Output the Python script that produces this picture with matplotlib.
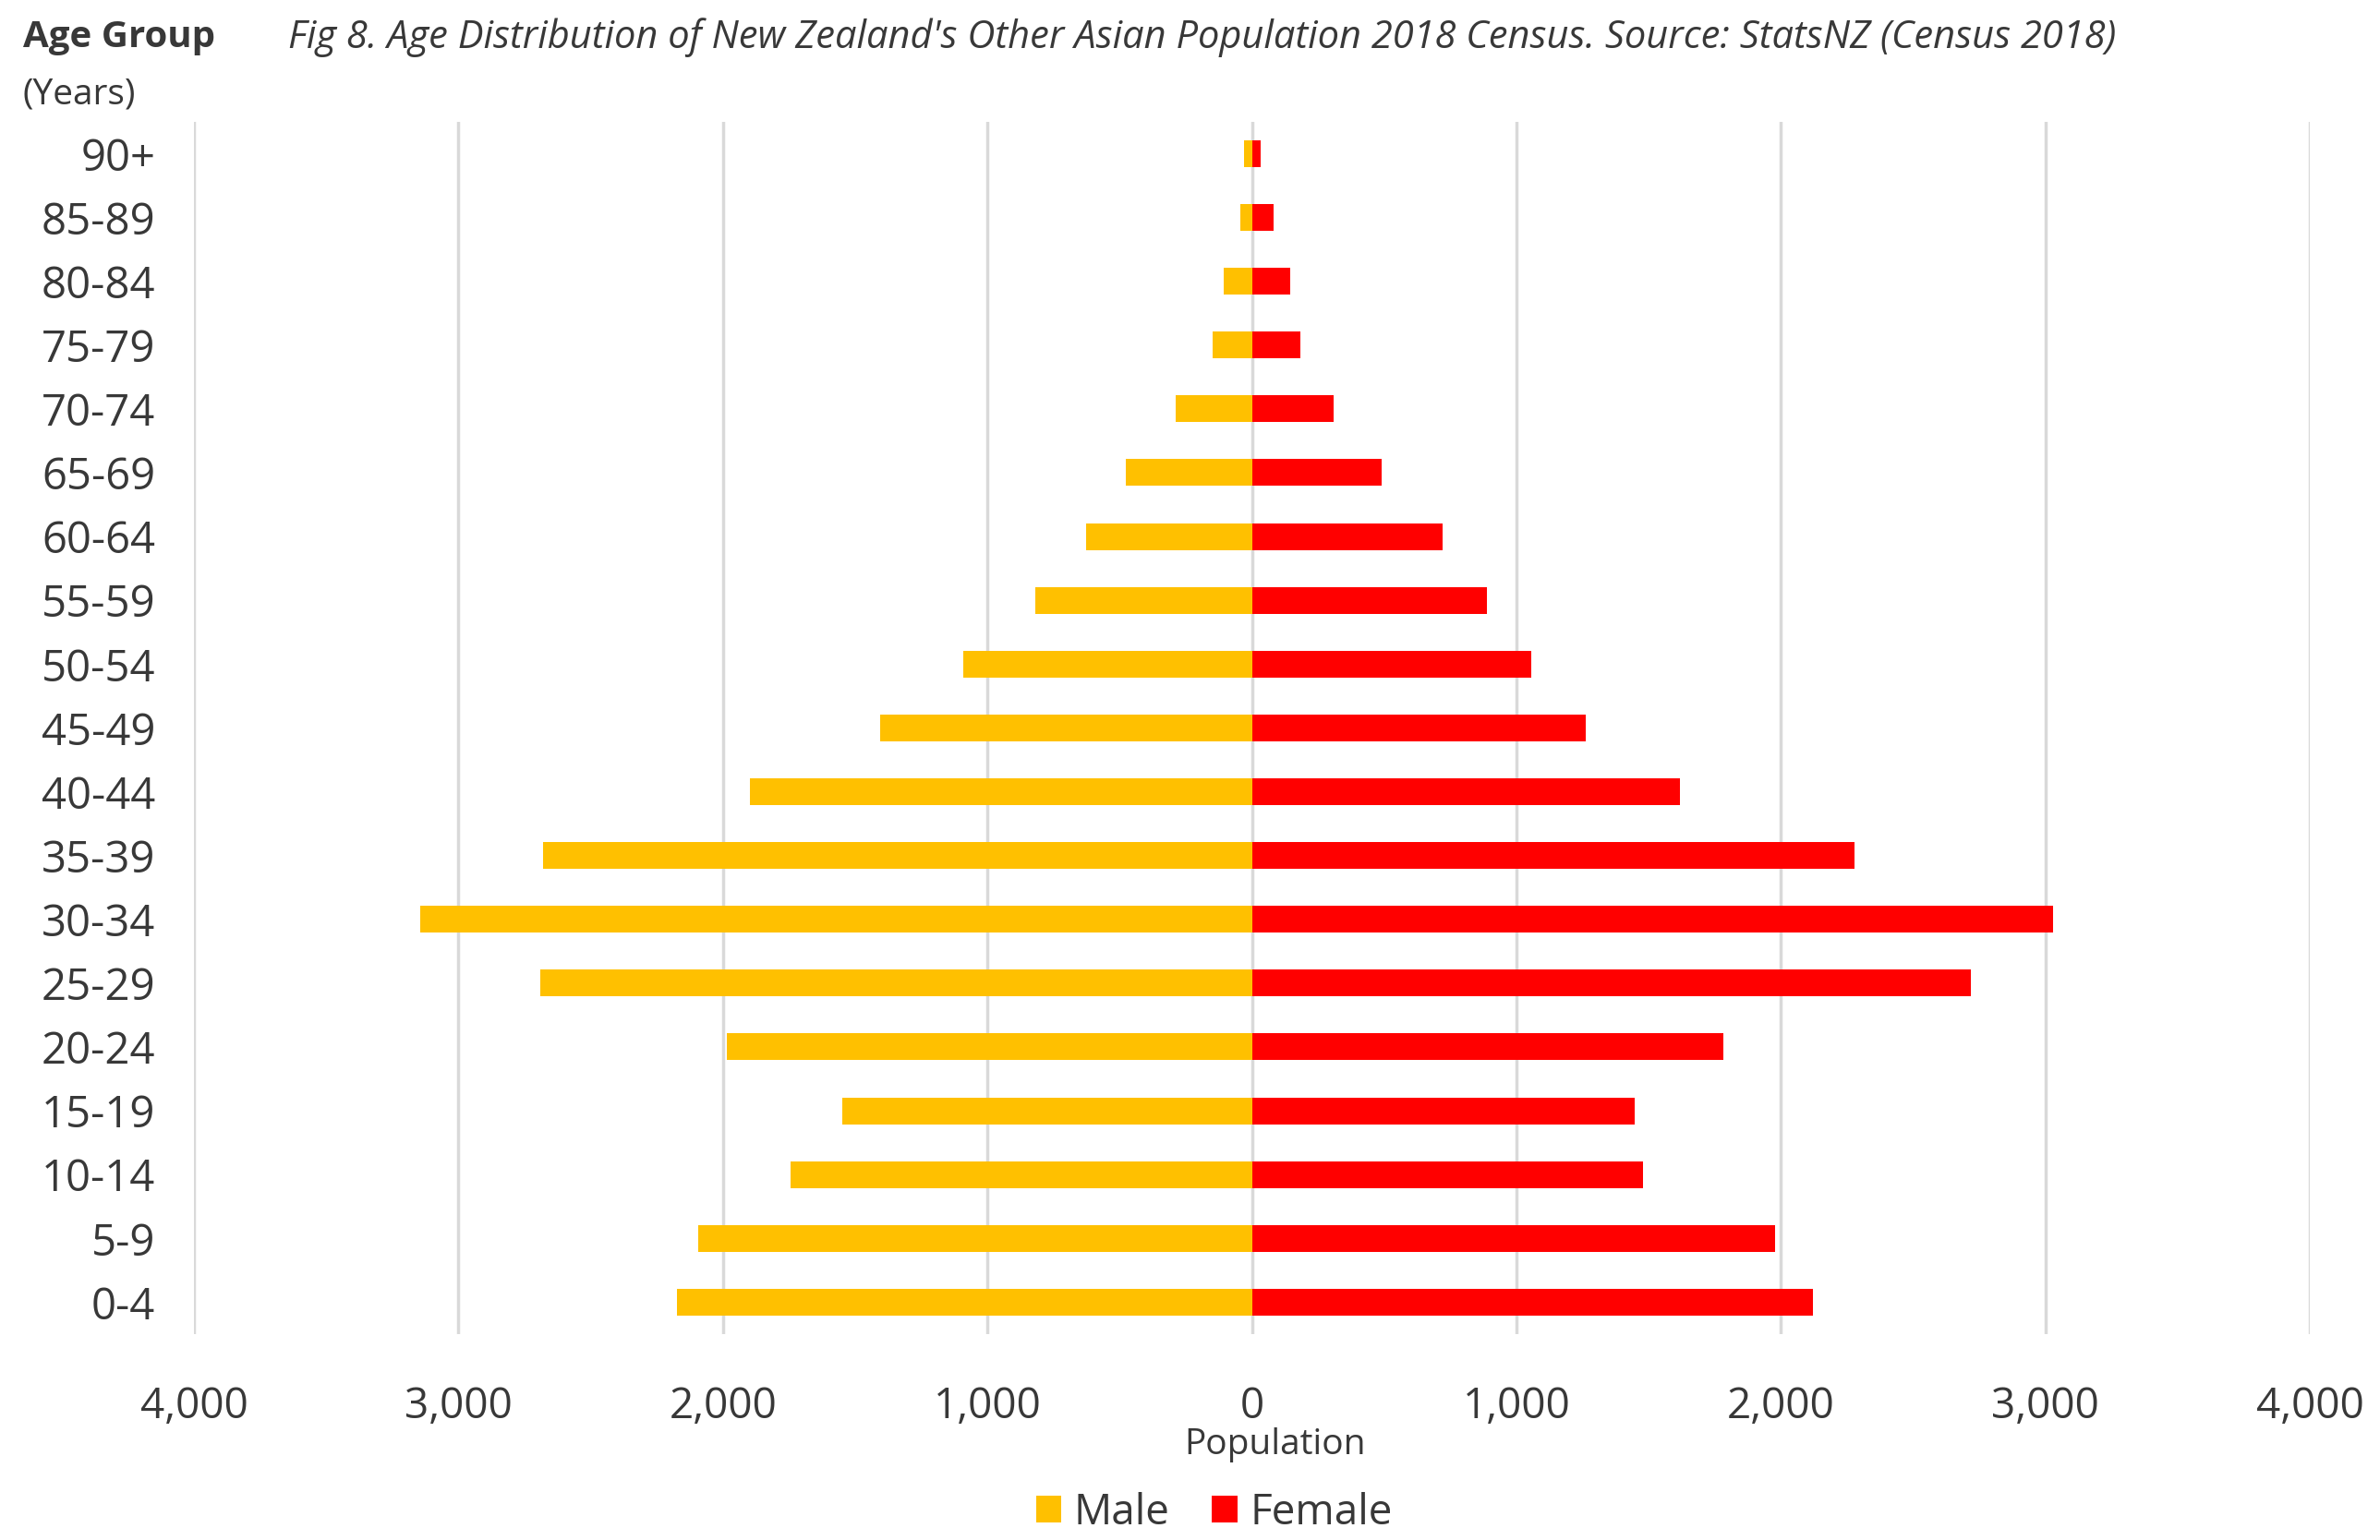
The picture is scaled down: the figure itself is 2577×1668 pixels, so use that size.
import numpy as np
import matplotlib.pyplot as plt
from matplotlib.ticker import FuncFormatter
from matplotlib import font_manager

# age groups from bottom (0-4) to top (90+)
age_groups = ['0-4', '5-9', '10-14', '15-19', '20-24', '25-29', '30-34', '35-39',
              '40-44', '45-49', '50-54', '55-59', '60-64', '65-69', '70-74',
              '75-79', '80-84', '85-89', '90+']
male = [2174, 2094, 1744, 1549, 1985, 2691, 3144, 2679, 1899, 1406, 1090, 820,
        627, 476, 288, 147, 107, 44, 29]
female = [2123, 1979, 1480, 1446, 1784, 2719, 3029, 2278, 1618, 1262, 1056, 889,
          720, 492, 308, 185, 145, 83, 34]

names = {f.name for f in font_manager.fontManager.ttflist}
fam = [f for f in ['Liberation Sans Narrow', 'Open Sans', 'DejaVu Sans'] if f in names]
plt.rcParams['font.family'] = fam

grey = '#383838'
fig = plt.figure(figsize=(25.77, 16.68), dpi=100)
ax = fig.add_axes([0.0815, 0.1337, 0.889, 0.7873])

y = np.arange(len(age_groups))
ax.barh(y, -np.array(male), height=0.42, color='#FFC000', label='Male', zorder=3)
ax.barh(y, female, height=0.42, color='#FF0000', label='Female', zorder=3)

ax.set_xlim(-4000, 4000)
ax.set_ylim(-0.5, len(age_groups) - 0.5)
ax.set_xticks(np.arange(-4000, 4001, 1000))
ax.xaxis.set_major_formatter(FuncFormatter(lambda v, p: f'{abs(int(v)):,}'))
ax.set_yticks(y)
ax.set_yticklabels(age_groups)
ax.tick_params(axis='x', length=0, pad=40, labelsize=33, labelcolor=grey)
ax.tick_params(axis='y', length=0, pad=30, labelsize=34, labelcolor=grey)
ax.grid(axis='x', color='#d9d9d9', linewidth=2.5, zorder=0)
for s in ax.spines.values():
    s.set_visible(False)

fig.text(840 * 1.6435 / 2577, 1 - 1565 / 1668, 'Population', ha='center', va='center',
         fontsize=28, color=grey)
fig.text(25 / 2577, 1 - 41 / 1668, 'Age Group', ha='left', va='center',
         fontsize=29, color=grey, fontweight='bold')
fig.text(25 / 2577, 1 - 102 / 1668, '(Years)', ha='left', va='center',
         fontsize=28, color=grey)
fig.text(312 / 2577, 1 - 41 / 1668,
         "Fig 8. Age Distribution of New Zealand's Other Asian Population 2018 Census. Source: StatsNZ (Census 2018)",
         ha='left', va='center', fontsize=30, color=grey, style='italic')

fig.legend(loc='center', bbox_to_anchor=(800 * 1.6435 / 2577, 1 - 1639 / 1668),
           ncol=2, frameon=False, fontsize=33, handlelength=0.6, handleheight=0.6,
           handletextpad=0.3, columnspacing=1.0, labelcolor=grey)

fig.savefig('out.png', dpi=100, facecolor='white')
